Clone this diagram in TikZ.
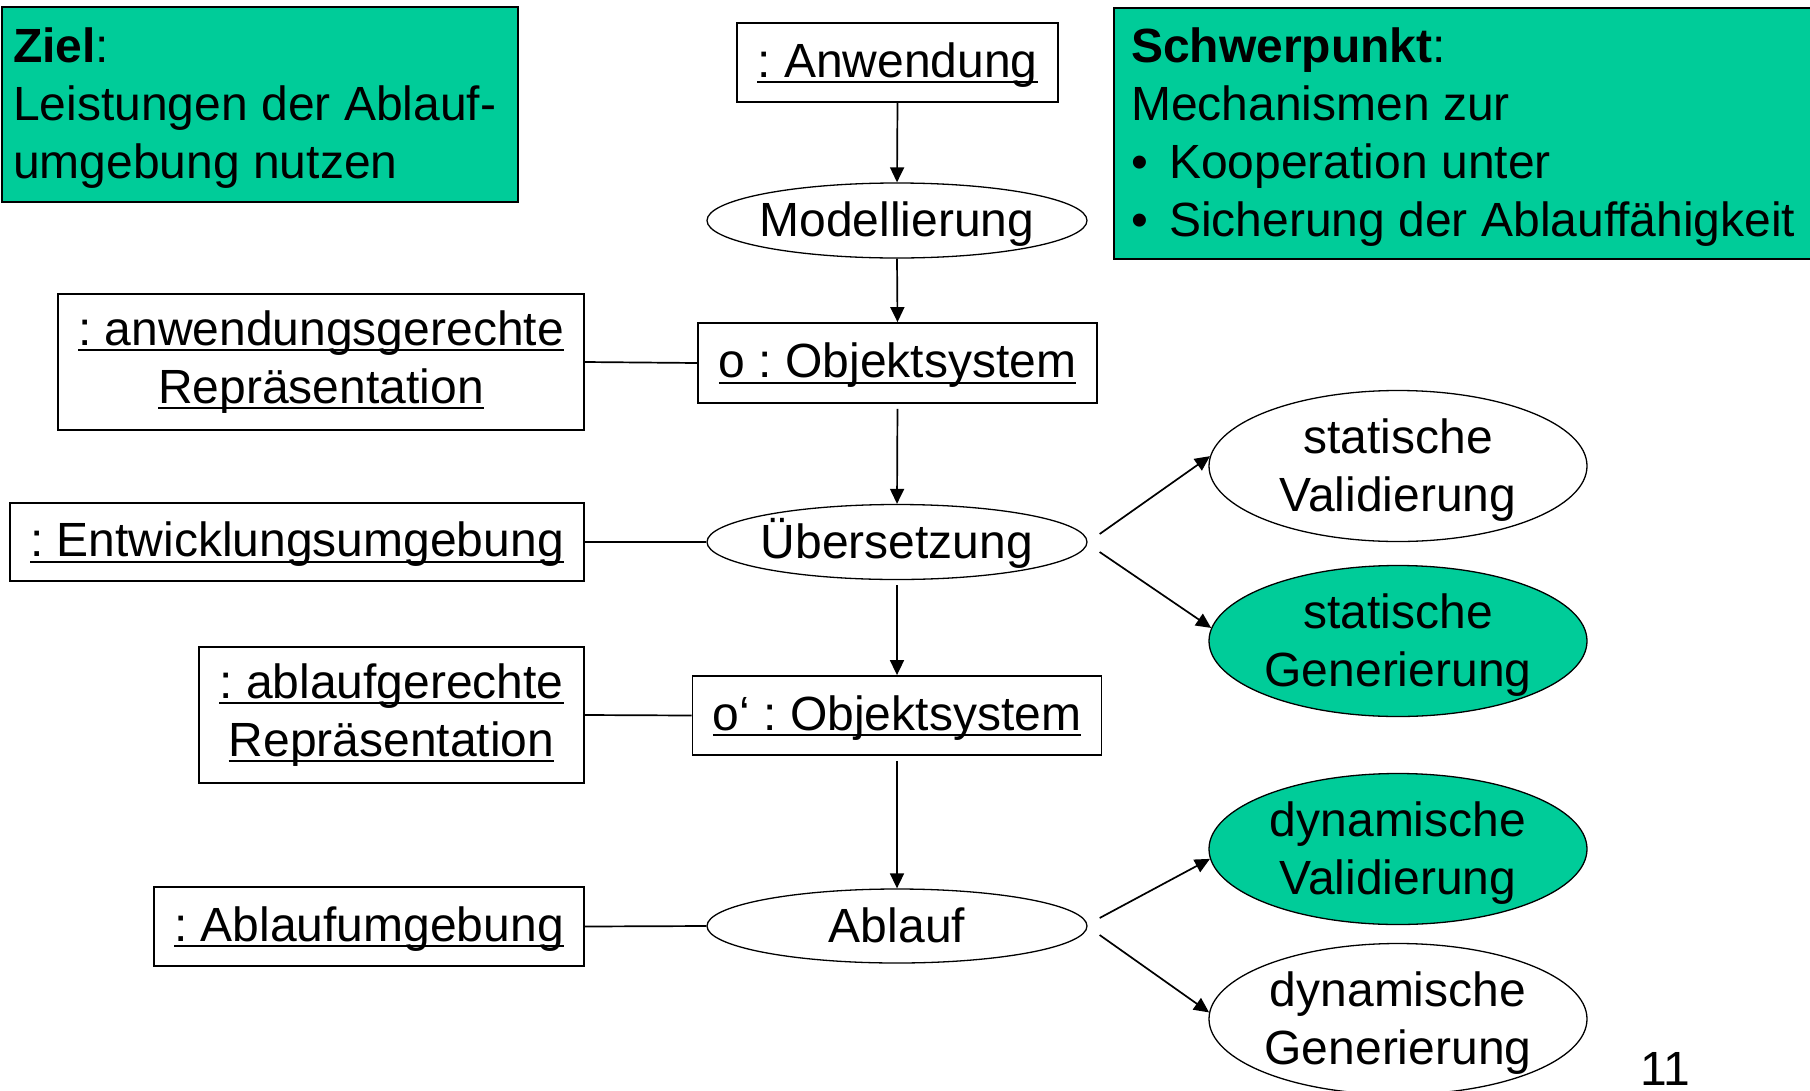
\documentclass[tikz,border=0pt]{standalone}
\usepackage{fontspec}
\setmainfont{Liberation Sans}
\usetikzlibrary{arrows.meta,shapes.geometric}
\definecolor{notegreen}{RGB}{0,204,153}
\frenchspacing

% underlined object name, rule drawn under the whole text
\newsavebox\ulbox
\newcommand\uln[1]{\sbox\ulbox{#1}\rlap{\rule[-6pt]{\wd\ulbox}{2pt}}\usebox\ulbox}
% taller first line for the two-line ellipses
\newcommand\topstrut{\rule{0pt}{42pt}}

\begin{document}
\begin{tikzpicture}[x=1pt,y=1pt,
  every node/.style={font=\fontsize{48}{58}\selectfont, inner sep=0pt},
  objbox/.style={draw, line width=1.8pt, rectangle},
  oneline/.style={text height=39pt, text depth=10pt},
  proc/.style={draw, line width=1.3pt, ellipse, inner sep=-20pt,
    minimum width=380pt, minimum height=75pt, text height=42pt, text depth=10pt},
  task/.style={draw, line width=1.3pt, ellipse, inner sep=-20pt,
    minimum width=378pt, minimum height=151pt, align=center},
  notebox/.style={draw, line width=1.8pt, fill=notegreen, rectangle, anchor=north west},
  flow/.style={-{Triangle[length=15pt,width=14pt]}, line width=1.7pt},
  link/.style={line width=1.7pt}]

\useasboundingbox (0,0) rectangle (1810,-1090);

% note boxes
\node[notebox, minimum width=516pt, minimum height=195pt] (ziel) at (1,-6) {};
\node[anchor=north west, align=left] (zieltext) at (13,-28)
  {\textbf{Ziel}:\\Leistungen der Ablauf-\\umgebung nutzen};
\node[notebox, minimum width=720pt, minimum height=251pt] (schw) at (1113,-7) {};
\node[anchor=north west, align=left] (schwtext) at (1131,-28)
  {\textbf{Schwerpunkt}:\\Mechanismen zur\\\makebox[38pt][l]{•}Kooperation unter\\\makebox[38pt][l]{•}Sicherung der Ablauffähigkeit};

% main flow
\node[objbox, oneline, minimum width=321pt, minimum height=79pt] (anw) at (897.5,-62.5) {\uln{: Anwendung}};
\node[proc] (mod) at (897,-220.5) {Modellierung};
\node[objbox, oneline, minimum width=399pt, minimum height=80pt] (obj) at (897.5,-363) {\uln{o : Objektsystem}};
\node[proc] (ueb) at (897,-542) {Übersetzung};
\node[objbox, oneline, minimum width=409pt, minimum height=79pt] (objb) at (897,-715.5) {\uln{o‘ : Objektsystem}};
\node[proc, minimum height=74pt] (abl) at (897,-926) {Ablauf};

% representations and environments
\node[objbox, align=center, minimum width=526pt, minimum height=136pt] (arep) at (321,-362)
  {\uln{: anwendungsgerechte}\\\uln{Repräsentation}};
\node[objbox, oneline, minimum width=574pt, minimum height=78pt] (entw) at (297,-542) {\uln{: Entwicklungsumgebung}};
\node[objbox, align=center, minimum width=385pt, minimum height=136pt] (lrep) at (391.5,-715)
  {\uln{: ablaufgerechte}\\\uln{Repräsentation}};
\node[objbox, oneline, minimum width=430pt, minimum height=79pt] (aumg) at (369,-926.5) {\uln{: Ablaufumgebung}};

% validation and generation
\node[task] (sv) at (1398,-466) {\topstrut statische\\Validierung};
\node[task, fill=notegreen] (sg) at (1398,-641) {\topstrut statische\\Generierung};
\node[task, fill=notegreen] (dv) at (1398,-849) {\topstrut dynamische\\Validierung};
\node[task] (dg) at (1398,-1019) {\topstrut dynamische\\Generierung};

\node[anchor=base] (pg) at (1665,-1085) {11};

% connectors
\draw[flow] (anw.south) -- (mod.north);
\draw[flow] (mod.south) -- (obj.north);
\draw[flow, shorten <=5pt] (obj.south) -- (ueb.north);
\draw[flow, shorten <=5pt] (ueb.south) -- (objb.north);
\draw[flow, shorten <=5pt] (objb.south) -- (abl.north);

\draw[link] (arep.east) -- (obj.west);
\draw[link] (entw.east) -- (ueb.west);
\draw[link] (lrep.east) -- (objb.west);
\draw[link] (aumg.east) -- (abl.west);

\draw[flow] ([shift={(12,8)}]ueb.east) -- (sv.177);
\draw[flow] ([shift={(12,-10)}]ueb.east) -- (sg.176);
\draw[flow] ([shift={(12,8)}]abl.east) -- (dv.183);
\draw[flow] ([shift={(12,-9)}]abl.east) -- (dg.178);
\end{tikzpicture}
\end{document}
